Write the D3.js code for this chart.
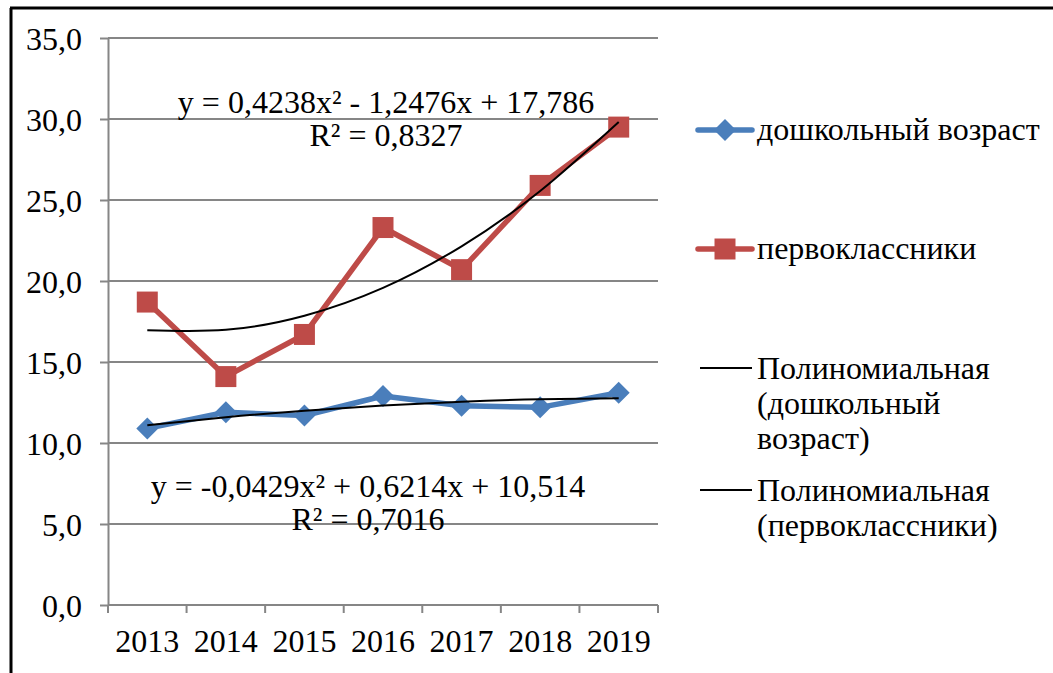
<!DOCTYPE html>
<html>
<head>
<meta charset="utf-8">
<script src="https://cdn.jsdelivr.net/npm/d3@7"></script>
<style>
  body { margin: 0; background: #fff; }
  svg text { font-family: "Liberation Serif", "Times New Roman", serif; fill: #000; }
  .axis path, .axis line { stroke: #868686; stroke-width: 2; }
  .grid line { stroke: #868686; stroke-width: 2; }
</style>
</head>
<body>
<div id="chart"></div>
<script>
// chart values
const years = ['2013', '2014', '2015', '2016', '2017', '2018', '2019'];
const preschool = [10.9, 11.9, 11.7, 12.9, 12.3, 12.2, 13.1];
const firstGraders = [18.7, 14.1, 16.7, 23.3, 20.7, 25.9, 29.5];
const yTicks = [0, 5, 10, 15, 20, 25, 30, 35];

// polynomial trendline coefficients (a, b, c) as printed on the chart
const preschoolTrend = [-0.0429, 0.6214, 10.514];
const firstGradersTrend = [0.4238, -1.2476, 17.786];

const seriesNames = ['дошкольный возраст', 'первоклассники'];
const trendNames = [['Полиномиальная', '(дошкольный', 'возраст)'], ['Полиномиальная', '(первоклассники)']];

const width = 1053, height = 673;
const margin = { top: 38, left: 108, right: 395, bottom: 68 };
const innerW = width - margin.left - margin.right;
const innerH = height - margin.top - margin.bottom;
const fontSize = '32px';

const svg = d3.select('#chart').append('svg')
  .attr('width', width)
  .attr('height', height)
  .attr('font-family', '"Liberation Serif", serif');

// outer frame (top and left edges are visible)
svg.append('line').attr('x1', 10).attr('x2', width).attr('y1', 8).attr('y2', 8)
  .attr('stroke', '#000').attr('stroke-width', 3);
svg.append('line').attr('x1', 11).attr('x2', 11).attr('y1', 8).attr('y2', height)
  .attr('stroke', '#000').attr('stroke-width', 3);

const chart = svg.append('g')
  .attr('transform', `translate(${margin.left},${margin.top})`);

const xScale = d3.scaleBand().domain(years).range([0, innerW]).padding(0);
const yScale = d3.scaleLinear().domain([0, 35]).range([innerH, 0]);
const fmt = v => d3.format('.1f')(v).replace('.', ',');

// gridlines
chart.append('g').attr('class', 'grid')
  .selectAll('line').data(yTicks.filter(d => d > 0)).join('line')
  .attr('x1', 0).attr('x2', innerW)
  .attr('y1', d => yScale(d)).attr('y2', d => yScale(d));

// y axis
const yAxisG = chart.append('g').attr('class', 'axis')
  .call(d3.axisLeft(yScale).tickValues(yTicks).tickFormat(fmt).tickSize(8).tickSizeOuter(0))
  .attr('font-family', '"Liberation Serif", serif')
  .attr('font-size', fontSize);
yAxisG.selectAll('text')
  .attr('x', -26).attr('dy', '0.35em')
  .attr('fill', '#000');

// x axis: baseline, boundary ticks and centred labels
const xAxisG = chart.append('g').attr('class', 'axis')
  .attr('transform', `translate(0,${innerH})`);
xAxisG.append('line').attr('x1', 0).attr('x2', innerW);
xAxisG.selectAll('.tick-b').data(years.concat(['end'])).join('line')
  .attr('class', 'tick-b')
  .attr('x1', (d, i) => i * xScale.step()).attr('x2', (d, i) => i * xScale.step())
  .attr('y1', 0).attr('y2', 8);
xAxisG.selectAll('text').data(years).join('text')
  .attr('x', d => xScale(d) + xScale.bandwidth() / 2)
  .attr('y', 47)
  .attr('text-anchor', 'middle')
  .style('font-size', fontSize)
  .text(d => d);

const cx = d => xScale(d) + xScale.bandwidth() / 2;

// data lines
const line = d3.line().x(d => cx(d.year)).y(d => yScale(d.value));
const toPoints = vals => years.map((y, i) => ({ year: y, value: vals[i] }));

const series = [
  { name: seriesNames[0], values: preschool, color: '#4a7ebb', marker: 'diamond' },
  { name: seriesNames[1], values: firstGraders, color: '#be4b48', marker: 'square' }
];

const diamond = 'M0,-11L11,0L0,11L-11,0Z';
const square = 'M-10.5,-10.5H10.5V10.5H-10.5Z';

series.forEach(s => {
  chart.append('path')
    .datum(toPoints(s.values))
    .attr('fill', 'none')
    .attr('stroke', s.color)
    .attr('stroke-width', 5.5)
    .attr('stroke-linejoin', 'round')
    .attr('d', line);
  chart.selectAll(null).data(toPoints(s.values)).join('path')
    .attr('transform', d => `translate(${cx(d.year)},${yScale(d.value)})`)
    .attr('d', s.marker === 'diamond' ? diamond : square)
    .attr('fill', s.color);
});

// trendlines from printed coefficients, evaluated at x = 1..7
const trendLine = d3.line().x(d => cx(d.year)).y(d => yScale(d.value)).curve(d3.curveNatural);
[preschoolTrend, firstGradersTrend].forEach(c => {
  const pts = years.map((y, i) => {
    const x = i + 1;
    return { year: y, value: c[0] * x * x + c[1] * x + c[2] };
  });
  chart.append('path').datum(pts)
    .attr('fill', 'none').attr('stroke', '#000').attr('stroke-width', 2)
    .attr('d', trendLine);
});

// equation labels
const eqs = [
  { lines: ['y = 0,4238x² - 1,2476x + 17,786', 'R² = 0,8327'], x: 386, y: 113 },
  { lines: ['y = -0,0429x² + 0,6214x + 10,514', 'R² = 0,7016'], x: 368, y: 497 }
];
eqs.forEach(e => {
  const t = svg.append('text')
    .attr('text-anchor', 'middle')
    .style('font-size', fontSize);
  e.lines.forEach((l, i) => {
    t.append('tspan').attr('x', e.x).attr('y', e.y + i * 33).text(l);
  });
});

// legend
const legend = svg.append('g');
series.forEach((s, i) => {
  const y = [130, 249][i];
  legend.append('line').attr('x1', 698).attr('x2', 752).attr('y1', y).attr('y2', y)
    .attr('stroke', s.color).attr('stroke-width', 5.5).attr('stroke-linecap', 'round');
  legend.append('path').attr('transform', `translate(725,${y})`)
    .attr('d', s.marker === 'diamond' ? diamond : square).attr('fill', s.color);
  legend.append('text').attr('x', 757).attr('y', y + 10)
    .style('font-size', fontSize).text(s.name);
});
trendNames.forEach((lines, i) => {
  const y = [368, 490][i];
  legend.append('line').attr('x1', 700).attr('x2', 752).attr('y1', y).attr('y2', y)
    .attr('stroke', '#000').attr('stroke-width', 2);
  const t = legend.append('text').style('font-size', fontSize);
  lines.forEach((l, j) => {
    t.append('tspan').attr('x', 757).attr('y', y + 11 + j * 35).text(l);
  });
});
</script>
</body>
</html>
